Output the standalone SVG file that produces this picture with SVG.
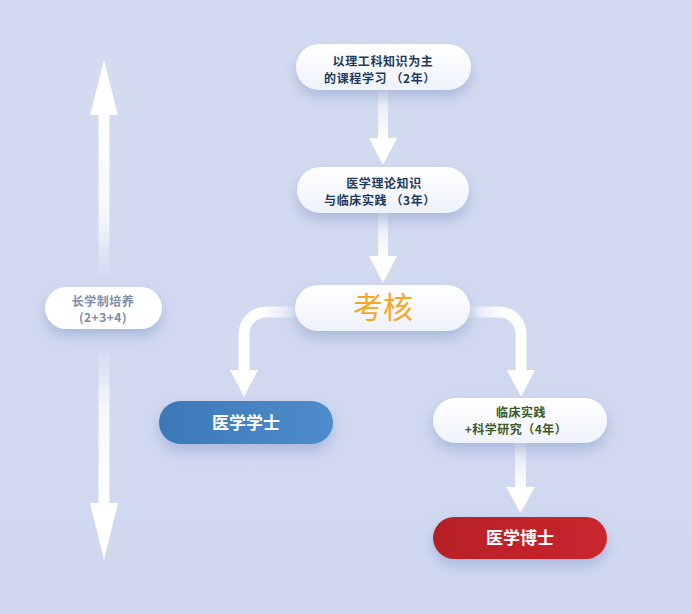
<svg xmlns="http://www.w3.org/2000/svg" width="692" height="614" viewBox="0 0 692 614">
  <defs>
    <style>
      .t { font-family: "Noto Sans CJK SC", "Noto Sans", sans-serif; font-weight: 700; text-anchor: middle; }
      .navy { fill: #1f3a5c; font-size: 12px; letter-spacing: 0.6px; }
      .green { fill: #3b5a27; font-size: 12px; letter-spacing: 0.5px; }
      .gray { fill: #7d8cab; font-size: 12px; letter-spacing: 0.5px; }
      .wt { fill: #ffffff; font-size: 17px; }
      .head { fill: #ffffff; }
    </style>
    <linearGradient id="bg" x1="0" y1="0" x2="0" y2="1">
      <stop offset="0" stop-color="#d3dbf0"/>
      <stop offset="1" stop-color="#cfd8ef"/>
    </linearGradient>
    <linearGradient id="pill" x1="0" y1="0" x2="0" y2="1">
      <stop offset="0" stop-color="#ffffff"/>
      <stop offset="1" stop-color="#eef2fa"/>
    </linearGradient>
    <linearGradient id="blue" x1="0" y1="0" x2="1" y2="0">
      <stop offset="0" stop-color="#3c78b8"/>
      <stop offset="1" stop-color="#4f8ccb"/>
    </linearGradient>
    <linearGradient id="red" x1="0" y1="0" x2="1" y2="0">
      <stop offset="0" stop-color="#b81f27"/>
      <stop offset="1" stop-color="#c9262e"/>
    </linearGradient>
    <linearGradient id="vdown" x1="0" y1="0" x2="0" y2="1">
      <stop offset="0" stop-color="#ffffff" stop-opacity="0.35"/>
      <stop offset="1" stop-color="#ffffff" stop-opacity="1"/>
    </linearGradient>
    <linearGradient id="upFade" x1="0" y1="0" x2="0" y2="1">
      <stop offset="0" stop-color="#ffffff" stop-opacity="1"/>
      <stop offset="0.6" stop-color="#ffffff" stop-opacity="0.8"/>
      <stop offset="1" stop-color="#ffffff" stop-opacity="0"/>
    </linearGradient>
    <linearGradient id="downFade" x1="0" y1="0" x2="0" y2="1">
      <stop offset="0" stop-color="#ffffff" stop-opacity="0"/>
      <stop offset="0.4" stop-color="#ffffff" stop-opacity="0.8"/>
      <stop offset="1" stop-color="#ffffff" stop-opacity="1"/>
    </linearGradient>
    <linearGradient id="leftBr" gradientUnits="userSpaceOnUse" x1="298" y1="0" x2="262" y2="0">
      <stop offset="0" stop-color="#ffffff" stop-opacity="0.2"/>
      <stop offset="1" stop-color="#ffffff" stop-opacity="1"/>
    </linearGradient>
    <linearGradient id="rightBr" gradientUnits="userSpaceOnUse" x1="468" y1="0" x2="502" y2="0">
      <stop offset="0" stop-color="#ffffff" stop-opacity="0.2"/>
      <stop offset="1" stop-color="#ffffff" stop-opacity="1"/>
    </linearGradient>
    <filter id="sh" x="-20%" y="-40%" width="140%" height="220%">
      <feDropShadow dx="0" dy="7" stdDeviation="7" flood-color="#7a8fc2" flood-opacity="0.45"/>
    </filter>
  </defs>

  <rect x="0" y="0" width="692" height="614" fill="url(#bg)"/>

  <g id="connectors">
    <rect x="378" y="90" width="10" height="50" fill="url(#vdown)"/>
    <polygon class="head" points="369,138 397,138 383,165"/>
    <rect x="378" y="213" width="10" height="45" fill="url(#vdown)"/>
    <polygon class="head" points="369,256 397,256 383,283"/>
    <path d="M298,312 H266 A22,22 0 0 0 244,334 V372" fill="none" stroke="url(#leftBr)" stroke-width="11"/>
    <polygon class="head" points="230,370 258,370 244,397"/>
    <path d="M468,312 H499 A22,22 0 0 1 521,334 V372" fill="none" stroke="url(#rightBr)" stroke-width="11"/>
    <polygon class="head" points="507,370 535,370 521,397"/>
    <rect x="515" y="443" width="11" height="46" fill="url(#vdown)"/>
    <polygon class="head" points="506,487 535,487 520.5,513"/>
    <rect x="98.5" y="113" width="11" height="167" fill="url(#upFade)"/>
    <polygon class="head" points="90,115 118,115 104,60"/>
    <rect x="98.5" y="345" width="11" height="160" fill="url(#downFade)"/>
    <polygon class="head" points="90,503 118,503 104,560"/>
  </g>

  <g id="node-course">
    <rect x="296" y="44" width="175" height="46" rx="23" fill="url(#pill)" filter="url(#sh)"/>
    <text class="t navy" x="383" y="66">以理工科知识为主</text>
    <text class="t navy" x="380" y="82.5">的课程学习 （2年）</text>
  </g>

  <g id="node-theory">
    <rect x="297" y="167" width="172" height="46" rx="23" fill="url(#pill)" filter="url(#sh)"/>
    <text class="t navy" x="384" y="188">医学理论知识</text>
    <text class="t navy" x="380" y="204.5">与临床实践 （3年）</text>
  </g>

  <g id="node-exam">
    <rect x="295" y="285" width="175" height="46" rx="23" fill="url(#pill)" filter="url(#sh)"/>
    <text x="383" y="318" text-anchor="middle" font-family="Noto Sans CJK SC, Noto Sans, sans-serif" font-size="30" fill="#f5a623">考核</text>
  </g>

  <g id="node-bachelor">
    <rect x="159" y="401" width="174" height="43" rx="21.5" fill="url(#blue)" filter="url(#sh)"/>
    <text class="t wt" x="246" y="429">医学学士</text>
  </g>

  <g id="node-clinical">
    <rect x="433" y="398" width="174" height="45" rx="22.5" fill="url(#pill)" filter="url(#sh)"/>
    <text class="t green" x="521" y="417">临床实践</text>
    <text class="t green" x="516" y="433.5">+科学研究（4年）</text>
  </g>

  <g id="node-doctor">
    <rect x="433" y="517" width="174" height="42" rx="21" fill="url(#red)" filter="url(#sh)"/>
    <text class="t wt" x="520" y="544">医学博士</text>
  </g>

  <g id="node-long">
    <rect x="45" y="287" width="117" height="42" rx="21" fill="#ffffff" filter="url(#sh)"/>
    <text class="t gray" x="103" y="305.5">长学制培养</text>
    <text class="t gray" x="103" y="322">(2+3+4)</text>
  </g>
</svg>
